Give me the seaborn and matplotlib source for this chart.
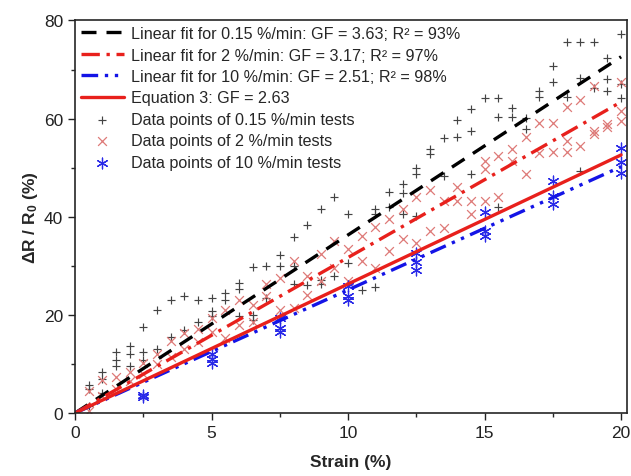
import numpy as np
import pandas as pd
import matplotlib
matplotlib.use('Agg')
import matplotlib.pyplot as plt
import seaborn as sns

# --- data ---
strain_015 = [0.5, 0.5, 0.5, 1, 1, 1, 1.5, 1.5, 1.5, 2, 2, 2, 2.5, 2.5, 2.5, 3, 3, 3.5, 3.5, 4, 4,
              4.5, 4.5, 5, 5, 5, 5.5, 5.5, 6, 6, 6, 6.5, 6.5, 6.5, 7, 7, 7.5, 7.5, 8, 8, 8, 8.5, 8.5,
              9, 9, 9, 9.5, 9.5, 10, 10, 10.5, 11, 11, 11, 11.5, 11.5, 12, 12, 12, 12.5, 12.5, 12.5,
              13, 13, 13.5, 13.5, 14, 14, 14.5, 14.5, 14.5, 15, 15.5, 15.5, 15.5, 16, 16, 16.5, 16.5,
              17, 17, 17.5, 17.5, 18, 18, 18.5, 18.5, 18.5, 19, 19, 19.5, 19.5, 19.5, 20, 20, 20]
dr_015 = [5.0, 5.8, 1.5, 8.4, 7.0, 4.0, 12.5, 10.8, 9.5, 13.6, 12.1, 9.5, 17.6, 12.5, 10.8, 21.0, 13.0,
          23.1, 15.5, 23.8, 17.0, 23.1, 18.5, 23.4, 20.7, 19.7, 24.5, 23.1, 26.6, 25.3, 19.7, 29.7,
          20.0, 19.0, 30.0, 23.5, 32.3, 29.9, 35.9, 29.9, 26.2, 38.4, 26.0, 41.6, 27.2, 26.2, 44.0,
          27.9, 40.5, 30.6, 25.0, 41.6, 40.5, 25.7, 45.0, 42.0, 46.6, 44.9, 40.5, 50.0, 48.7, 40.1,
          53.8, 52.8, 56.0, 48.3, 59.7, 56.2, 62.0, 57.5, 48.7, 64.1, 64.1, 60.3, 41.9, 62.2, 60.3,
          60.1, 57.9, 65.7, 64.5, 70.8, 67.4, 75.7, 64.4, 75.7, 68.2, 49.4, 75.7, 66.2, 72.3, 68.0,
          65.7, 77.2, 67.1, 64.1]

strain_2 = [0.5, 0.5, 1, 1, 1.5, 1.5, 2, 2, 2.5, 2.5, 3, 3, 3.5, 3.5, 4, 4, 4.5, 4.5, 5, 5, 5.5, 5.5,
            6, 6, 6.5, 6.5, 7, 7, 7.5, 7.5, 8, 8, 8.5, 8.5, 9, 9, 9.5, 9.5, 10, 10, 10.5, 10.5, 11, 11,
            11.5, 11.5, 12, 12, 12.5, 12.5, 13, 13, 13.5, 13.5, 14, 14, 14.5, 14.5, 15, 15, 15,
            15.5, 15.5, 16, 16, 16.5, 16.5, 17, 17, 17.5, 17.5, 18, 18, 18, 18.5, 18.5, 19, 19, 19,
            19.5, 19.5, 20, 20, 20]
dr_2 = [4.5, 0.5, 6.8, 3.5, 7.4, 5.0, 8.4, 6.5, 10.2, 8.0, 12.1, 10.0, 14.6, 11.5, 16.3, 13.0, 17.2,
        14.5, 19.4, 16.5, 15.3, 21.0, 23.1, 18.0, 18.6, 22.0, 26.2, 23.9, 27.5, 21.0, 30.9, 21.5,
        28.0, 24.0, 32.5, 27.0, 35.0, 29.5, 33.5, 27.0, 36.0, 31.0, 38.0, 29.5, 39.5, 33.0, 41.5,
        35.5, 34.7, 44.0, 37.0, 45.5, 37.8, 43.2, 46.0, 43.2, 43.2, 40.5, 51.4, 49.7, 43.2, 52.4,
        44.0, 53.9, 51.4, 56.2, 48.7, 59.1, 53.0, 59.2, 53.1, 62.3, 55.5, 53.1, 63.7, 54.5, 66.6,
        57.5, 56.9, 58.9, 58.2, 67.5, 61.6, 59.6]

strain_10 = [2.5, 2.5, 5, 5, 5, 7.5, 7.5, 7.5, 10, 10, 10, 12.5, 12.5, 12.5, 15, 15, 15,
             17.5, 17.5, 17.5, 20, 20, 20]
dr_10 = [3.2, 3.7, 10.2, 11.0, 12.0, 17.4, 16.6, 19.4, 25.8, 23.8, 23.1, 32.7, 30.7, 29.2,
         40.9, 37.0, 36.0, 47.3, 44.2, 42.5, 54.0, 51.1, 48.9]

fit_labels = ['Linear fit for 0.15 %/min: GF = 3.63; R² = 93%',
              'Linear fit for 2 %/min: GF = 3.17; R² = 97%',
              'Linear fit for 10 %/min: GF = 2.51; R² = 98%',
              'Equation 3: GF = 2.63']
fit_gf = [3.63, 3.17, 2.51, 2.63]
strain_range = [0, 20]

sns.set_style('ticks')
plt.rcParams['font.family'] = ['Liberation Sans', 'DejaVu Sans']
plt.rcParams['mathtext.default'] = 'regular'

fig, ax = plt.subplots(figsize=(6.31, 4.77), dpi=100)
fig.subplots_adjust(left=0.119, right=0.993, bottom=0.132, top=0.955)

line_styles = [dict(color='black', dashes=(4.5, 3)),
               dict(color='#e8201c', dashes=(5.5, 2, 1, 2)),
               dict(color='#1414e6', dashes=(5, 2, 1, 2, 1, 2)),
               dict(color='#e8201c', dashes=None)]

fit_df = pd.DataFrame({'x': strain_range * len(fit_gf),
                       'y': [g * s for g in fit_gf for s in strain_range],
                       'fit': [lab for lab in fit_labels for _ in strain_range]})

for lab, st in zip(fit_labels, line_styles):
    d = fit_df[fit_df['fit'] == lab]
    sns.lineplot(data=d, x='x', y='y', color=st['color'], linewidth=2.4, label=lab, ax=ax)
    if st['dashes'] is not None:
        ax.lines[-1].set_dashes(st['dashes'])

sns.scatterplot(x=strain_015, y=dr_015, marker='+', color='#444444', s=40, linewidth=0.85,
                label='Data points of 0.15 %/min tests', ax=ax, zorder=1)
sns.scatterplot(x=strain_2, y=dr_2, marker='x', color='#de7a78', s=40, linewidth=0.9,
                label='Data points of 2 %/min tests', ax=ax, zorder=1)
sns.scatterplot(x=strain_10, y=dr_10, marker=(6, 2, 0), color='#2a2ae8', s=60, linewidth=0.9,
                label='Data points of 10 %/min tests', ax=ax, zorder=1)

ax.set_xlim(0, 20.2)
ax.set_ylim(0, 80)
ax.set_xticks([0, 5, 10, 15, 20])
ax.set_yticks([0, 20, 40, 60, 80])
ax.set_xticks(np.arange(2.5, 20, 5), minor=True)
ax.set_yticks(np.arange(10, 80, 20), minor=True)
ax.tick_params(which='major', direction='out', length=5, width=1, labelsize=12.5, colors='#222222')
ax.tick_params(which='minor', direction='out', length=3, width=1)
for sp in ax.spines.values():
    sp.set_linewidth(1.2)
    sp.set_visible(True)

ax.set_xlabel('Strain (%)', fontsize=12.5, fontweight='bold', labelpad=10)
ax.set_ylabel('ΔR / R$_0$ (%)', fontsize=12.5, fontweight='bold', labelpad=3)

ax.legend(loc='upper left', frameon=False, fontsize=11.6, handlelength=2.7,
          labelspacing=0.4, borderaxespad=0.2, handletextpad=0.4, borderpad=0.15)

plt.savefig('out.png', dpi=100)
plt.close()
